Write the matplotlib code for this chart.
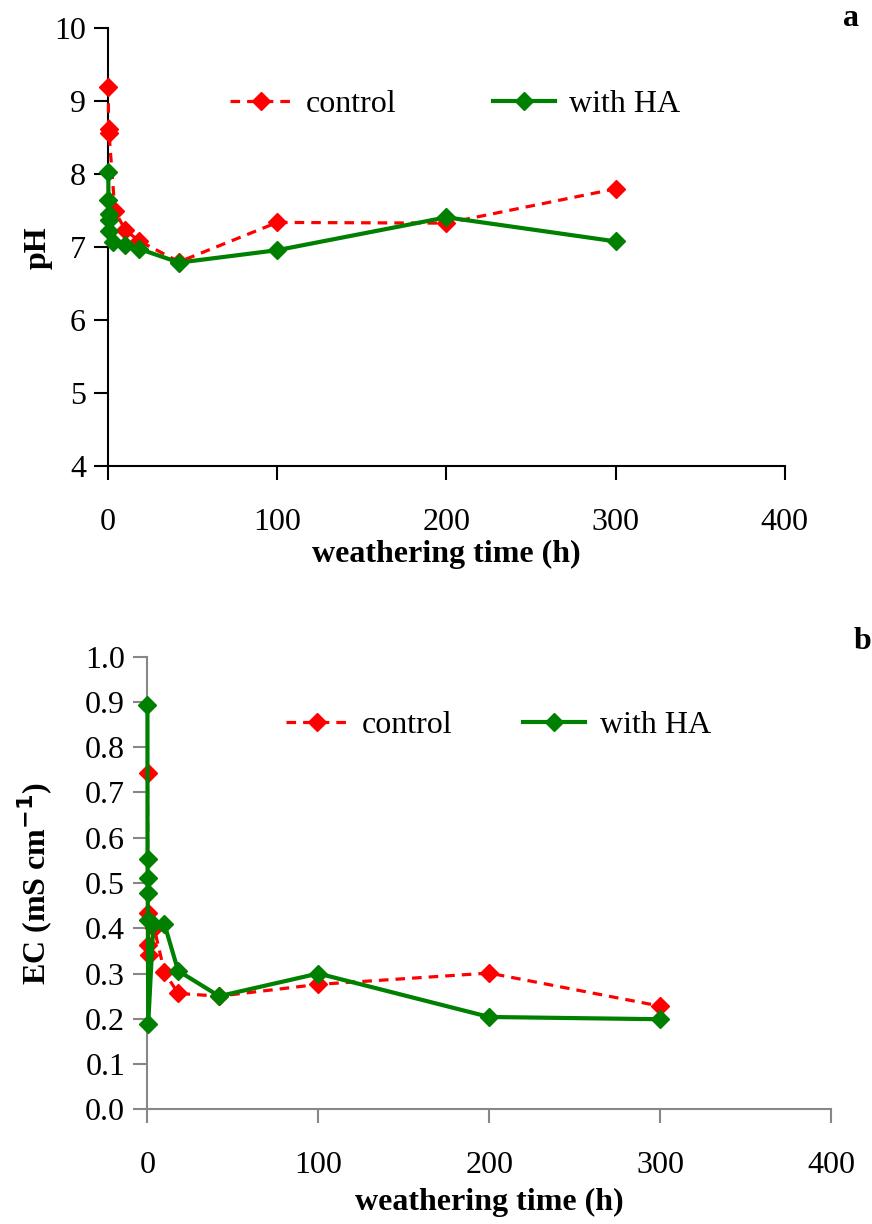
import numpy as np
import matplotlib.pyplot as plt

plt.rcParams['font.family'] = ['Liberation Serif', 'DejaVu Serif']

# pH over weathering time
ph_time_control = [0.1, 0.25, 0.5, 4, 10, 18, 42, 100, 200, 300]
ph_control = [9.20, 8.62, 8.57, 7.50, 7.24, 7.09, 6.80, 7.34, 7.33, 7.80]
ph_time_ha = [0.1, 0.2, 0.3, 0.4, 0.5, 3, 10, 18, 42, 100, 200, 300]
ph_ha = [8.03, 7.65, 7.46, 7.37, 7.22, 7.07, 7.03, 6.98, 6.79, 6.96, 7.41, 7.08]

# electrical conductivity over weathering time
ec_time_control = [0.1, 0.25, 0.5, 1, 4, 10, 18, 42, 100, 200, 300]
ec_control = [0.744, 0.433, 0.363, 0.341, 0.40, 0.303, 0.256, 0.250, 0.276, 0.301, 0.228]
ec_time_ha = [0.05, 0.1, 0.15, 0.2, 0.3, 0.5, 3.5, 10, 18, 42, 100, 200, 300]
ec_ha = [0.893, 0.553, 0.512, 0.477, 0.418, 0.188, 0.410, 0.409, 0.306, 0.250, 0.300, 0.204, 0.199]

x_ticks = [0, 100, 200, 300, 400]
red = '#ff0000'
green = '#008000'
fs = 23

fig = plt.figure(figsize=(8.72, 12.24), dpi=100)
ax1 = fig.add_axes([0.124, 0.619, 0.776, 0.358])
ax2 = fig.add_axes([0.169, 0.0937, 0.784, 0.3698])


def style_axis(ax, spine_color):
    for side in ['top', 'right']:
        ax.spines[side].set_visible(False)
    for side in ['left', 'bottom']:
        ax.spines[side].set_color(spine_color)
        ax.spines[side].set_linewidth(1.5)
    ax.tick_params(axis='both', direction='out', length=10, width=1.5,
                   color=spine_color, labelsize=fs, pad=6)
    ax.tick_params(axis='x', pad=20)
    ax.set_xlim(0, 400)
    ax.set_xticks(x_ticks)


def draw_series(ax, tc, yc, th, yh):
    ax.plot(tc, yc, color=red, lw=2.3, ls=(0, (3, 2.2)), marker='D', ms=9,
            mec=red, mfc=red, label='control', clip_on=False, zorder=3)
    ax.plot(th, yh, color=green, lw=3, marker='D', ms=9,
            mec=green, mfc=green, label='with HA', clip_on=False, zorder=4)


draw_series(ax1, ph_time_control, ph_control, ph_time_ha, ph_ha)
style_axis(ax1, 'black')
ax1.set_ylim(4, 10)
ax1.set_yticks(np.arange(4, 11, 1))
ax1.set_xlabel('weathering time (h)', fontsize=fs, fontweight='bold', labelpad=2)
ax1.set_ylabel('pH', fontsize=fs, fontweight='bold', labelpad=1)
ax1.legend(loc='upper left', bbox_to_anchor=(0.137, 0.925), ncol=2, frameon=False,
           fontsize=fs, handlelength=1.95, columnspacing=3.0, handletextpad=0.45)
fig.text(0.985, 0.997, 'a', fontsize=fs, fontweight='bold', ha='right', va='top')

draw_series(ax2, ec_time_control, ec_control, ec_time_ha, ec_ha)
style_axis(ax2, '#878787')
ax2.set_ylim(0, 1.0)
ax2.set_yticks(np.arange(0, 1.01, 0.1))
ax2.set_yticklabels([f'{v:.1f}' for v in np.arange(0, 1.01, 0.1)])
ax2.set_xlabel('weathering time (h)', fontsize=fs, fontweight='bold', labelpad=6)
ax2.set_ylabel('EC (mS cm$^{\\mathbf{-1}}$)', fontsize=fs, fontweight='bold', labelpad=22)
ax2.legend(loc='upper left', bbox_to_anchor=(0.16, 0.945), ncol=2, frameon=False,
           fontsize=fs, handlelength=1.95, columnspacing=2.2, handletextpad=0.45)
fig.text(0.999, 0.488, 'b', fontsize=fs, fontweight='bold', ha='right', va='top')

fig.savefig('out.png', dpi=100)
